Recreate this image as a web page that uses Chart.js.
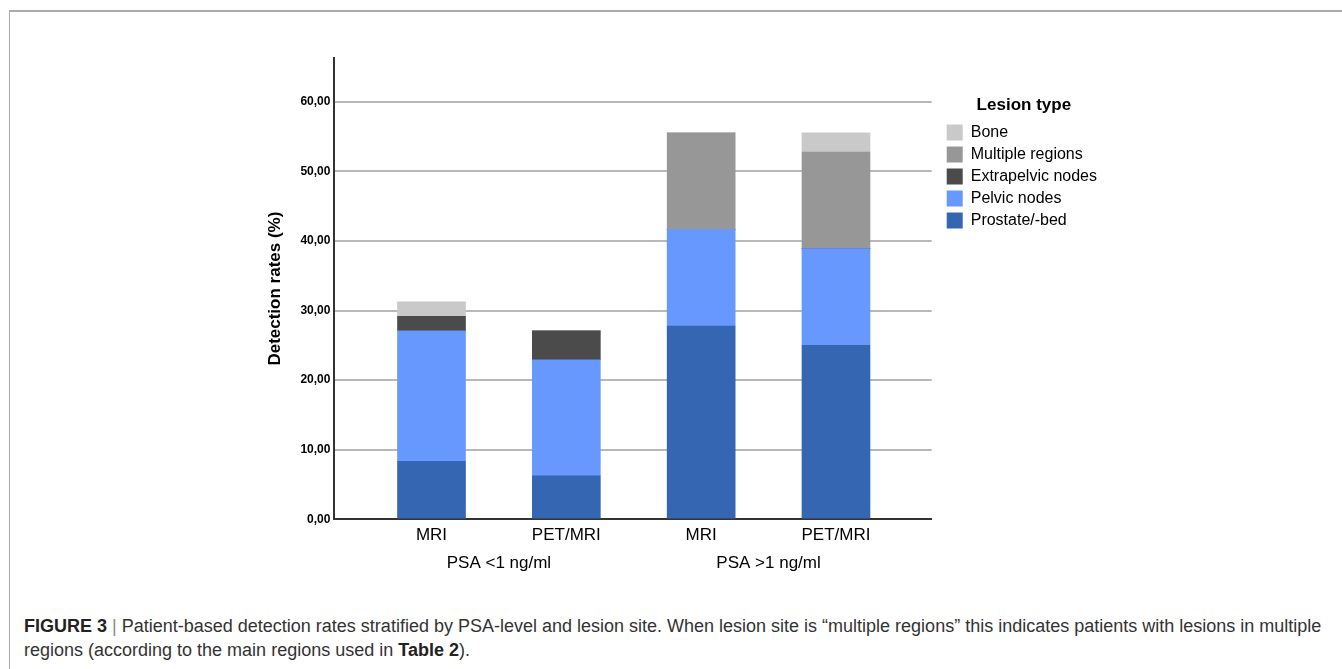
<!DOCTYPE html>
<html>
<head>
<meta charset="utf-8">
<script src="https://cdn.jsdelivr.net/npm/chart.js@4.4.1/dist/chart.umd.min.js"></script>
<style>
  html, body { margin: 0; padding: 0; background: #fff; }
  body { width: 1342px; height: 669px; position: relative; overflow: hidden; font-family: "Liberation Sans", Arial, sans-serif; }
  .frame { position: absolute; left: 9px; top: 10px; right: -2px; bottom: -2px; border-left: 1px solid #aaa; border-top: 2px solid #aaa; }
  #wrap { position: absolute; left: 265px; top: 40px; width: 852px; height: 536px; }
  .caption { position: absolute; left: 24px; top: 614px; width: 1312px; font-size: 18px; line-height: 24px; color: #333; }
  .caption b { color: #222; }
  .caption .sep { color: #888; }
</style>
</head>
<body>
<div class="frame"></div>
<div id="wrap"><canvas id="chart"></canvas></div>
<div class="caption"><b>FIGURE 3</b> <span class="sep">|</span> Patient-based detection rates stratified by PSA-level and lesion site. When lesion site is “multiple regions” this indicates patients with lesions in multiple regions (according to the main regions used in <b>Table 2</b>).</div>
<script>
// --- DATA ---
const modalities = ['MRI', 'PET/MRI', 'MRI', 'PET/MRI'];
const psaGroups = ['PSA <1 ng/ml', 'PSA >1 ng/ml'];
const prostateBed = [8.33, 6.25, 27.78, 25.00];
const pelvicNodes = [18.75, 16.67, 13.89, 13.89];
const extrapelvicNodes = [2.08, 4.17, 0, 0];
const multipleRegions = [0, 0, 13.89, 13.89];
const bone = [2.08, 0, 0, 2.78];
const yTicks = [0, 10, 20, 30, 40, 50, 60];

const font = '"Liberation Sans", Arial, sans-serif';

// bars sit on a linear x scale so the outer margins can differ from the bar spacing
function toPoints(values) {
    return values.map((v, i) => ({ x: i + 1, y: v }));
}

function makeSet(label, values, color) {
    return {
        label: label,
        data: toPoints(values),
        xAxisID: 'x',
        yAxisID: 'y',
        backgroundColor: color,
        borderWidth: 0,
        barThickness: 68
    };
}

const ctx = document.getElementById('chart').getContext('2d');
const chart = new Chart(ctx, {
    type: 'bar',
    data: {
        datasets: [
            makeSet('Prostate/-bed', prostateBed, '#3466b2'),
            makeSet('Pelvic nodes', pelvicNodes, '#6698fe'),
            makeSet('Extrapelvic nodes', extrapelvicNodes, '#4b4b4b'),
            makeSet('Multiple regions', multipleRegions, '#979797'),
            makeSet('Bone', bone, '#c9c9c9')
        ]
    },
    options: {
        responsive: true,
        maintainAspectRatio: false,
        animation: false,
        layout: { padding: { top: 18, right: 10, left: 0, bottom: 0 } },
        plugins: {
            tooltip: { enabled: false },
            legend: {
                position: 'right',
                align: 'start',
                reverse: true,
                maxWidth: 220,
                title: {
                    display: true,
                    text: 'Lesion type',
                    color: '#000',
                    font: { family: font, size: 17, weight: 'bold' },
                    padding: { top: 39, bottom: 1 }
                },
                labels: {
                    boxWidth: 16,
                    boxHeight: 16,
                    padding: 6,
                    color: '#000',
                    font: { family: font, size: 16 }
                }
            }
        },
        scales: {
            x: {
                type: 'linear',
                stacked: true,
                offset: false,
                min: 0.28,
                max: 4.71,
                weight: 0,
                afterBuildTicks: axis => { axis.ticks = modalities.map((m, i) => ({ value: i + 1 })); },
                ticks: {
                    color: '#000',
                    padding: 6,
                    font: { family: font, size: 17 },
                    callback: v => modalities[v - 1]
                },
                grid: { display: false, drawTicks: false },
                border: { color: '#333', width: 2 }
            },
            x2: {
                type: 'linear',
                position: 'bottom',
                offset: false,
                min: 0.28,
                max: 4.71,
                weight: 1,
                afterBuildTicks: axis => { axis.ticks = psaGroups.map((g, i) => ({ value: i * 2 + 1.5 })); },
                ticks: {
                    color: '#000',
                    padding: 2,
                    font: { family: font, size: 17 },
                    callback: v => psaGroups[(v - 1.5) / 2]
                },
                grid: { display: false, drawTicks: false },
                border: { display: false }
            },
            y: {
                stacked: true,
                min: 0,
                max: 66.3,
                afterBuildTicks: axis => { axis.ticks = yTicks.map(v => ({ value: v })); },
                ticks: {
                    color: '#000',
                    padding: 4,
                    font: { family: font, size: 12, weight: 'bold' },
                    callback: v => v.toFixed(2).replace('.', ',')
                },
                grid: { color: '#b8b8b8', lineWidth: 2, drawTicks: false },
                border: { color: '#333', width: 2 },
                title: {
                    display: true,
                    text: 'Detection rates (%)',
                    color: '#000',
                    font: { family: font, size: 17, weight: 'bold' },
                    padding: { top: 0, bottom: 11 }
                }
            },
            // empty axis on the right: keeps a small gap before the legend
            gap: {
                type: 'linear',
                position: 'right',
                grid: { display: false, drawTicks: false },
                border: { display: false },
                ticks: { display: false },
                afterFit: axis => { axis.width = 9; }
            }
        }
    }
});
</script>
</body>
</html>
